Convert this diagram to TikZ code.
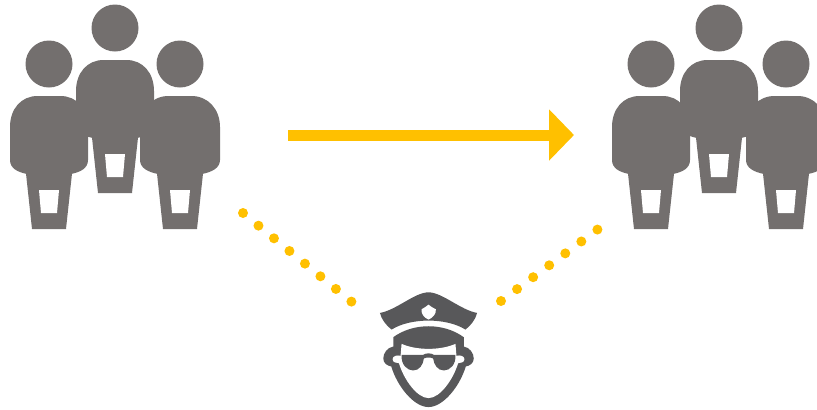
\documentclass[tikz,border=0pt]{standalone}
\usetikzlibrary{arrows.meta}
\definecolor{persongray}{HTML}{736F6E}
\definecolor{copgray}{HTML}{58585A}
\definecolor{arrowyellow}{HTML}{FFC000}

\newcommand{\person}[3]{%
  \begin{scope}[shift={(#1,#2)}]
    \def\bw{#3}
    \fill[persongray] (0,0) circle (0.235);
    \fill[persongray] (-\bw,-0.63) .. controls (-\bw,-0.45) and (-0.28,-0.32) .. (-0.115,-0.32)
      -- (0.115,-0.32) .. controls (0.28,-0.32) and (\bw,-0.45) .. (\bw,-0.63)
      -- (\bw,-0.96) .. controls (\bw,-1.04) and (0.32,-1.08) .. (0.22,-1.10)
      -- (-0.22,-1.10) .. controls (-0.32,-1.08) and (-\bw,-1.04) .. (-\bw,-0.96) -- cycle;
    \fill[persongray] (-0.235,-1.05) -- (-0.17,-1.65) -- (0.17,-1.65) -- (0.235,-1.05) -- cycle;
    \fill[white] (-0.10,-1.26) -- (0.10,-1.26) -- (0.08,-1.49) -- (-0.08,-1.49) -- cycle;
  \end{scope}%
}

\begin{document}
\begin{tikzpicture}[
    dotline/.style={arrowyellow, line width=0.1cm, line cap=round, dash pattern=on 0pt off 0.2cm},
    bigarrow/.style={arrowyellow, line width=0.11cm, -{Triangle[length=0.25cm, width=0.5cm]}}
]
\useasboundingbox (0,0) rectangle (8.17,4.09);
\clip (0,0) rectangle (8.17,4.09);

% --- GROUP LEFT ---
\person{1.15}{3.81}{0.39}
\person{0.49}{3.45}{0.39}
\person{1.80}{3.45}{0.40}

% --- GROUP RIGHT ---
\person{7.19}{3.81}{0.39}
\person{6.51}{3.45}{0.39}
\person{7.86}{3.45}{0.40}

% --- ARROW ---
\coordinate (arrowstart) at (2.88,2.74);
\coordinate (arrowend) at (5.74,2.74);
\draw[bigarrow] (arrowstart) -- (arrowend);

% --- DOTS ---
\coordinate (dotsleftstart) at (2.43,1.96);
\coordinate (dotsleftend) at (3.525,1.065);
\coordinate (dotsrightstart) at (5.01,1.08);
\coordinate (dotsrightend) at (5.975,1.795);
\draw[dotline] (dotsleftstart) -- (dotsleftend);
\draw[dotline] (dotsrightstart) -- (dotsrightend);

% --- POLICE ---
\begin{scope}[shift={(3.6,1.29)}, x=0.003333cm, y=-0.003333cm]
    % hat
    \fill[copgray] (60,99) .. controls (110,90) and (165,37) .. (206,37)
      .. controls (247,37) and (302,90) .. (352,99)
      .. controls (348,118) and (332,138) .. (317,149)
      .. controls (260,113) and (152,113) .. (95,149)
      .. controls (80,138) and (64,118) .. (60,99) -- cycle;
    \fill[white] (185,88) .. controls (193,85) and (200,78) .. (206,74)
      .. controls (212,78) and (219,85) .. (228,88)
      .. controls (230,102) and (218,114) .. (206,119)
      .. controls (194,114) and (183,102) .. (185,88) -- cycle;
    % band, ears and face
    \fill[copgray] (100,172) .. controls (160,128) and (252,128) .. (312,172) -- (312,200)
      .. controls (330,203) and (342,220) .. (342,236)
      .. controls (342,250) and (330,258) .. (318,260)
      .. controls (300,320) and (250,382) .. (206,382)
      .. controls (162,382) and (112,320) .. (94,260)
      .. controls (82,258) and (70,250) .. (70,236)
      .. controls (70,220) and (82,203) .. (100,200) -- cycle;
    \fill[white] (125,192) .. controls (170,212) and (242,212) .. (287,192)
      -- (290,228) .. controls (300,225) and (314,228) .. (314,238)
      .. controls (314,248) and (302,250) .. (295,250)
      .. controls (280,300) and (240,355) .. (206,355)
      .. controls (172,355) and (132,300) .. (117,250)
      .. controls (110,250) and (98,248) .. (98,238)
      .. controls (98,228) and (112,225) .. (122,228) -- cycle;
    % glasses
    \fill[copgray] (125,225) -- (190,225) .. controls (198,219) and (214,219) .. (222,225) -- (287,225)
      .. controls (289,255) and (270,272) .. (252,272)
      .. controls (234,272) and (222,255) .. (220,236)
      .. controls (212,232) and (200,232) .. (192,236)
      .. controls (190,255) and (178,272) .. (160,272)
      .. controls (142,272) and (123,255) .. (125,225) -- cycle;
\end{scope}
\end{tikzpicture}
\end{document}
